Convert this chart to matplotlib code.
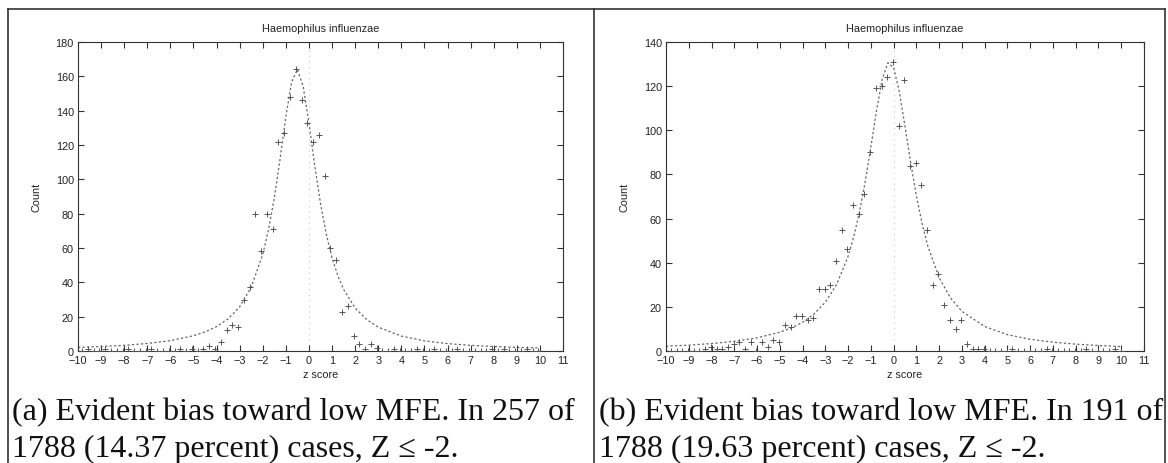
import numpy as np
import matplotlib.pyplot as plt
from matplotlib.lines import Line2D

plt.rcParams["font.family"] = ["Liberation Sans", "DejaVu Sans"]

# histogram of z scores, 0.25 wide bins
bins_a = np.arange(80) * 0.25 - 9.82
counts_a = [0, 1, 0, 0, 1, 0, 0, 0, 1, 0, 0, 0, 1, 0, 0, 0, 0, 1, 0, 1,
            0, 1, 3, 1, 5, 12, 15, 14, 30, 37, 80, 58, 80, 71, 122, 127, 148, 164, 146, 133,
            122, 126, 102, 60, 53, 23, 26, 9, 4, 1, 4, 2, 0, 0, 1, 0, 0, 0, 1, 0,
            0, 1, 0, 0, 0, 1, 0, 0, 0, 0, 0, 1, 0, 1, 0, 0, 0, 1, 0, 0]

bins_b = np.arange(80) * 0.25 - 9.78
counts_b = [0, 0, 0, 0, 0, 0, 1, 2, 1, 1, 2, 3, 4, 1, 4, 0, 4, 2, 5, 4,
            12, 11, 16, 16, 14, 15, 28, 28, 30, 41, 55, 46, 66, 62, 71, 90, 119, 120, 124, 131,
            102, 123, 84, 85, 75, 55, 30, 35, 21, 14, 10, 14, 3, 1, 1, 1, 0, 0, 0, 0,
            1, 0, 0, 0, 0, 0, 1, 0, 0, 0, 0, 0, 0, 1, 0, 0, 0, 0, 1, 0]

# fitted curves
fit_z = [-10, -9, -8, -7, -6, -5, -4.5, -4, -3.5, -3, -2.5, -2, -1.75, -1.5, -1.25, -1,
         -0.75, -0.5, -0.25, 0, 0.25, 0.5, 0.75, 1, 1.25, 1.5, 2, 2.5, 3, 4, 5, 6, 7, 8, 9, 10]
fit_a = [2.1, 2.6, 3.3, 4.4, 6.0, 8.9, 11.1, 14.2, 18.7, 25.7, 37.1, 56.3, 70.7, 89.2, 111.9, 136.5,
         156.8, 164, 154.2, 132.7, 108, 85.9, 68.1, 54.3, 43.9, 35.9, 25, 18.3, 13.9, 8.7, 5.9, 4.3, 3.3, 2.6, 2.1, 1.75]
fit_b = [2.15, 2.66, 3.37, 4.39, 5.95, 8.5, 10.4, 13.0, 16.7, 22.1, 30.2, 42.9, 51.8, 63, 76.6, 92.4,
         109, 123.2, 130.6, 128.4, 117.5, 101.8, 85.3, 70.3, 57.8, 47.6, 33.2, 24, 18, 11.1, 7.4, 5.3, 4.0, 3.1, 2.5, 2.0]

title = "Haemophilus influenzae"
captions = [("(a) Evident bias toward low MFE. In 257 of", "1788 (14.37 percent) cases, Z \u2264 -2."),
            ("(b) Evident bias toward low MFE. In 191 of", "1788 (19.63 percent) cases, Z \u2264 -2.")]


def panel(ax, bins, counts, fit, ymax):
    ax.axvline(0, color="#cccccc", ls=(0, (1, 4)), lw=0.8, zorder=1)
    ax.plot(fit_z, fit, color="#666666", ls=(0, (1.8, 1.8)), lw=0.9, zorder=2)
    ax.plot(bins, counts, ls="none", marker="+", ms=4.2, mew=0.7, color="#555555", zorder=3)
    ax.set_xlim(-10, 11)
    ax.set_ylim(0, ymax)
    ax.set_xticks(range(-10, 12))
    ax.set_yticks(range(0, ymax + 1, 20))
    ax.tick_params(direction="in", length=4, width=0.8, labelsize=7.8, top=True, right=True,
                   pad=3, colors="#333333", labelcolor="#222222")
    for s in ax.spines.values():
        s.set_linewidth(0.8)
        s.set_color("#333333")
    ax.set_title(title, fontsize=7.8, pad=8, color="#222222")
    ax.set_ylabel("Count", fontsize=7.8, labelpad=10, color="#222222")
    ax.set_xlabel("z score", fontsize=7.8, labelpad=3, color="#222222")


fig = plt.figure(figsize=(11.68, 4.64), dpi=100)
ax1 = fig.add_axes([78 / 1168, 1 - 352 / 464, 485 / 1168, 309 / 464])
ax2 = fig.add_axes([666 / 1168, 1 - 352 / 464, 478 / 1168, 309 / 464])
panel(ax1, bins_a, counts_a, fit_a, 180)
panel(ax2, bins_b, counts_b, fit_b, 140)

# panel frames
for xs, ys in [([8, 8], [0, 454]), ([594, 594], [0, 454]), ([1165, 1165], [0, 454]), ([8, 1165], [454, 454])]:
    fig.add_artist(Line2D([x / 1168 for x in xs], [y / 464 for y in ys], color="#333333", lw=1.2))

for x0, (line1, line2) in zip([12, 599], captions):
    fig.text(x0 / 1168, 1 - 420 / 464, line1, fontsize=23, family="Liberation Serif",
             va="baseline", ha="left", color="#111111")
    fig.text(x0 / 1168, 1 - 457 / 464, line2, fontsize=23, family="Liberation Serif",
             va="baseline", ha="left", color="#111111")

fig.savefig("out.png", dpi=100)
